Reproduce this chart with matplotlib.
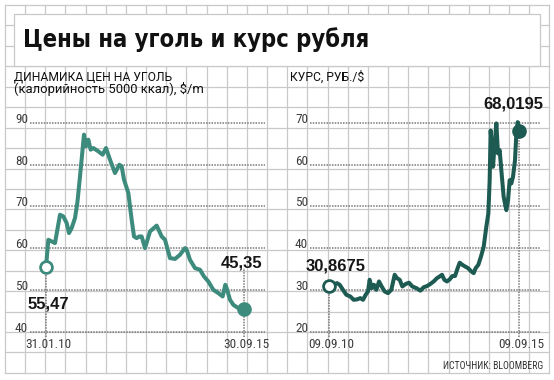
#!/usr/bin/env python3
# -*- coding: utf-8 -*-

import matplotlib
matplotlib.use("Agg")
import matplotlib.pyplot as plt
from matplotlib.patches import Rectangle


# -------------------------------------------------
# DATA
# -------------------------------------------------
# coal price, $/t, 31.01.10 - 30.09.15 (decimal years)
coal_t = [2010.080, 2010.147, 2010.242, 2010.338, 2010.481, 2010.576, 2010.672,
          2010.739, 2010.815, 2010.910, 2010.977, 2011.054, 2011.168, 2011.225,
          2011.292, 2011.359, 2011.435, 2011.579, 2011.703, 2011.798, 2011.913,
          2012.056, 2012.180, 2012.247, 2012.314, 2012.438, 2012.533, 2012.600,
          2012.676, 2012.753, 2012.819, 2012.915, 2013.058, 2013.249, 2013.392,
          2013.488, 2013.631, 2013.774, 2013.917, 2014.060, 2014.108, 2014.203,
          2014.347, 2014.490, 2014.604, 2014.728, 2014.872, 2015.015, 2015.139,
          2015.215, 2015.253, 2015.349, 2015.444, 2015.588, 2015.750]
coal_price = [55.47, 62.0, 61.6, 61.2, 68.0, 67.6, 66.0,
              63.6, 64.8, 67.2, 70.8, 77.2, 87.2, 84.4,
              86.0, 83.6, 84.0, 83.2, 82.4, 84.0, 81.2,
              78.0, 80.0, 79.6, 76.4, 73.2, 66.8, 62.8,
              62.4, 62.8, 62.8, 60.0, 64.0, 65.4, 62.8,
              62.0, 57.6, 57.4, 58.4, 60.0, 59.6, 57.2,
              55.2, 54.8, 53.2, 52.0, 50.0, 49.2, 48.4,
              51.2, 50.4, 47.6, 46.4, 45.6, 45.35]

# ruble rate, RUB/$, 09.09.10 - 09.09.15
rub_t = [2010.690, 2010.795, 2010.901, 2010.971, 2011.058, 2011.146, 2011.251,
         2011.339, 2011.427, 2011.515, 2011.585, 2011.655, 2011.716, 2011.760,
         2011.813, 2011.874, 2011.936, 2012.006, 2012.076, 2012.155, 2012.243,
         2012.330, 2012.418, 2012.479, 2012.550, 2012.620, 2012.708, 2012.795,
         2012.883, 2012.988, 2013.094, 2013.181, 2013.269, 2013.357, 2013.444,
         2013.532, 2013.602, 2013.664, 2013.725, 2013.795, 2013.866, 2013.936,
         2014.006, 2014.076, 2014.129, 2014.199, 2014.269, 2014.348, 2014.436,
         2014.497, 2014.550, 2014.620, 2014.690, 2014.760, 2014.830, 2014.883,
         2014.918, 2014.944, 2014.979, 2015.006, 2015.050, 2015.094, 2015.137,
         2015.181, 2015.225, 2015.286, 2015.357, 2015.401, 2015.445, 2015.488,
         2015.532, 2015.585, 2015.620, 2015.655, 2015.690]
rub_rate = [30.8675, 31.2, 31.6, 31.2, 30.0, 28.8, 28.4,
            27.6, 27.7, 28.0, 27.6, 28.8, 29.6, 32.4,
            30.4, 31.2, 30.0, 32.0, 30.8, 29.6, 29.2,
            30.0, 33.6, 32.8, 32.4, 30.8, 31.4, 31.7,
            30.8, 30.4, 29.8, 30.6, 30.9, 31.4, 32.0,
            32.8, 33.2, 33.6, 32.4, 32.0, 32.5, 33.3,
            33.3, 35.2, 36.5, 36.0, 35.6, 35.2, 34.4,
            34.0, 35.2, 36.0, 38.0, 40.3, 45.1, 48.3,
            56.3, 68.2, 63.5, 59.5, 65.1, 69.9, 62.7,
            63.5, 58.7, 52.3, 49.1, 51.5, 56.3, 55.5,
            57.1, 61.1, 67.4, 70.2, 68.0195]

coal_ticks = [40, 50, 60, 70, 80, 90]
rub_ticks = [20, 30, 40, 50, 60, 70]
coal_dates = ["31.01.10", "30.09.15"]
rub_dates = ["09.09.10", "09.09.15"]

title = "Цены на уголь и курс рубля"
coal_sub1 = "ДИНАМИКА ЦЕН НА УГОЛЬ"
coal_sub2 = "(калорийность 5000 ккал), $/m"
rub_sub = "КУРС, РУБ./$"
source = "ИСТОЧНИК: BLOOMBERG"


# -------------------------------------------------
# STYLE
# -------------------------------------------------
W, H = 554, 380
PX_PER_UNIT = 4.17
COND = ["Roboto Condensed", "DejaVu Sans"]
SANS = ["Roboto", "DejaVu Sans"]
BOLD = ["Liberation Sans", "DejaVu Sans"]
GRID_C = "#c9c9c9"
DOT_C = "#7a7a7a"
TEXT_C = "#3c3c3c"
COAL_C = "#3d8b7d"
RUB_C = "#1d5a52"

plt.rcParams["font.family"] = COND

fig = plt.figure(figsize=(W / 100, H / 100), dpi=100)

# graph-paper background in pixel coordinates
bg = fig.add_axes([0, 0, 1, 1])
bg.set_xlim(0, W)
bg.set_ylim(H, 0)
bg.axis("off")
for k in range(28):
    x = 5 + 20.16 * k
    bg.plot([x, x], [5, 373], color=GRID_C, lw=0.9, zorder=0)
for k in range(19):
    y = 5 + 20.44 * k
    bg.plot([5, 549.3], [y, y], color=GRID_C, lw=0.9, zorder=0)

bg.add_patch(Rectangle((14, 14), 526, 52, facecolor="white",
                       edgecolor=GRID_C, lw=0.9, zorder=1))
bg.text(23, 47, title, fontsize=17, fontweight="bold", family="DejaVu Sans",
        fontstretch="condensed", color="#111111", va="baseline", ha="left",
        zorder=2)
bg.text(14, 80.5, coal_sub1, fontsize=8.7, family=SANS, color="#111111",
        va="baseline", ha="left")
bg.text(14, 93.5, coal_sub2, fontsize=9.4, family=SANS, color="#111111",
        va="baseline", ha="left")
bg.text(290, 80.5, rub_sub, fontsize=8.7, family=SANS, color="#111111",
        va="baseline", ha="left")
bg.text(543, 369, source, fontsize=7, color="#333333", va="baseline", ha="right")


def panel(x0, x1, t0_px, t1_px, t0, t1, ybase):
    # axes whose bottom (value ybase) sits at pixel row 331.5
    top, bot = 95, 331.5
    ax = fig.add_axes([x0 / W, 1 - bot / H, (x1 - x0) / W, (bot - top) / H])
    sc = (t1_px - t0_px) / (t1 - t0)
    ax.set_xlim(t0 - (t0_px - x0) / sc, t1 + (x1 - t1_px) / sc)
    ax.set_ylim(ybase, ybase + (bot - top) / PX_PER_UNIT)
    ax.axis("off")
    ax.patch.set_alpha(0)
    return ax


def draw(ax, t, v, ticks, dates, color, end_top, lab0, lab1):
    for tv in ticks:
        ax.axhline(tv, color=DOT_C, lw=1.1, ls=(0, (1, 0.8)), clip_on=False, zorder=2)
        ax.annotate(str(tv), xy=(0, tv), xycoords=("axes fraction", "data"),
                    xytext=(-2, 0), textcoords="offset pixels", ha="right",
                    va="baseline", fontsize=9.5, color=TEXT_C)
    y0 = ticks[0]
    below = y0 - 5 / PX_PER_UNIT
    ax.vlines(t[0], below, v[0], color=DOT_C, lw=1.1, ls=(0, (1, 0.8)),
              clip_on=False, zorder=2)
    ax.vlines(t[-1], below, end_top, color=DOT_C, lw=1.1, ls=(0, (1, 0.8)),
              clip_on=False, zorder=2)
    for tt, lab in zip([t[0], t[-1]], dates):
        ax.annotate(lab, xy=(tt, y0), xytext=(2, -6), textcoords="offset pixels",
                    ha="center", va="top", fontsize=9.5, color=TEXT_C)
    ax.plot(t, v, color=color, lw=2.9, solid_joinstyle="round",
            solid_capstyle="round", clip_on=False, zorder=3)
    ax.plot(t[0], v[0], "o", ms=8.5, mfc="white", mec=color, mew=2,
            clip_on=False, zorder=4)
    ax.plot(t[-1], v[-1], "o", ms=9.5, color=color, clip_on=False, zorder=4)
    for (tt, vv, off) in [(t[0], v[0], lab0), (t[-1], v[-1], lab1)]:
        ax.annotate(f"{vv}".replace(".", ","), xy=(tt, vv), xytext=off,
                    textcoords="offset pixels", ha="center", va="center",
                    fontsize=12, fontweight="bold", family=BOLD,
                    color="#161616", zorder=5)


ax1 = panel(30, 265, 46, 244, coal_t[0], coal_t[-1], coal_ticks[0])
draw(ax1, coal_t, coal_price, coal_ticks, coal_dates, COAL_C, 55.2,
     (2, -37), (-2, 46))

ax2 = panel(310, 540, 329, 519, rub_t[0], rub_t[-1], rub_ticks[0])
draw(ax2, rub_t, rub_rate, rub_ticks, rub_dates, RUB_C, 70.5,
     (7, 20), (-6, 27))

fig.savefig("out.png", dpi=100)
